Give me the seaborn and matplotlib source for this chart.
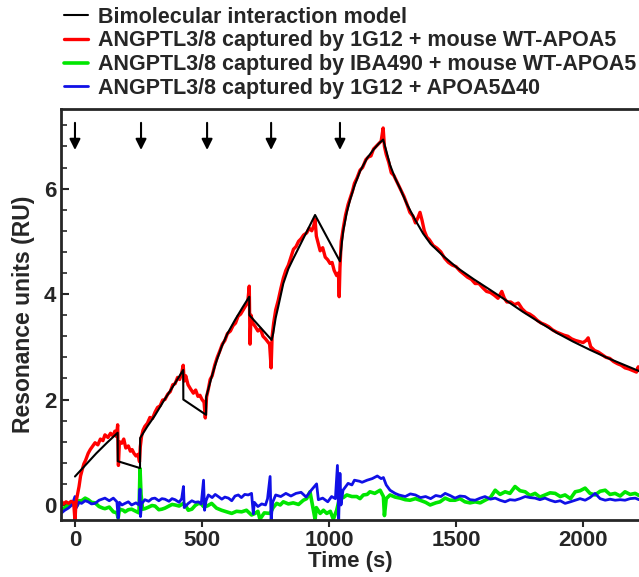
import matplotlib
matplotlib.use("Agg")
import matplotlib.pyplot as plt
from matplotlib.ticker import MultipleLocator
import seaborn as sns
import pandas as pd

# black fitted model (time s, RU)
model_t = [0, 42, 84, 126, 168, 168.5, 256, 256.5, 285, 315, 350, 390, 426, 426.5, 516,
           516.5, 538, 557, 577, 600, 630, 660, 686, 686.5, 774, 780, 790, 800, 820, 840,
           860, 885, 912, 945, 1043, 1050, 1056, 1070, 1083, 1100, 1122, 1150, 1175, 1195,
           1213, 1225, 1240, 1260, 1280, 1307, 1340, 1370, 1400, 1450, 1504, 1570, 1634,
           1700, 1764, 1830, 1898, 1960, 2028, 2100, 2160, 2220]
model_v = [0.54, 0.76, 0.98, 1.18, 1.37, 0.83, 0.70, 1.27, 1.49, 1.70, 1.98, 2.28, 2.56, 2.0,
           1.71, 2.05, 2.43, 2.73, 3.0, 3.25, 3.51, 3.75, 3.95, 3.6, 3.13, 3.25, 3.55, 3.76,
           4.2, 4.48, 4.68, 4.92, 5.18, 5.5, 4.62, 4.95, 5.2, 5.55, 5.79, 6.05, 6.33, 6.58,
           6.74, 6.85, 6.93, 6.72, 6.45, 6.2, 6.0, 5.7, 5.4, 5.15, 4.95, 4.72, 4.5, 4.28,
           4.08, 3.87, 3.66, 3.46, 3.26, 3.1, 2.94, 2.78, 2.66, 2.54]

# red: 1G12 + mouse WT-APOA5
red_t = [-55, -45, -35, -25, -15, -5, 0, 4, 10, 16, 22, 28, 35, 42, 52, 60, 70, 79, 90, 100,
         110, 118, 130, 140, 150, 157, 163, 168, 171, 175, 184, 192, 200, 210, 218, 225, 232,
         240, 248, 254, 257, 262, 268, 275, 285, 295, 305, 315, 325, 335, 345, 354, 365, 375,
         385, 394, 404, 412, 420, 426, 430, 436, 445, 455, 466, 475, 484, 492, 500, 508, 513,
         518, 525, 532, 540, 550, 560, 570, 580, 590, 600, 612, 622, 632, 642, 652, 662, 672,
         680, 686, 689, 693, 700, 710, 720, 730, 740, 750, 758, 766, 772, 776, 782, 790, 800,
         810, 820, 830, 840, 850, 860, 870, 880, 890, 900, 912, 922, 932, 940, 945, 950, 958,
         965, 975, 985, 995, 1004, 1012, 1020, 1030, 1037, 1040, 1043, 1048, 1056, 1065, 1075,
         1083, 1092, 1100, 1110, 1122, 1132, 1145, 1155, 1165, 1175, 1185, 1195, 1205, 1213,
         1218, 1225, 1235, 1245, 1255, 1265, 1275, 1285, 1295, 1307, 1318, 1330, 1340, 1350,
         1358, 1366, 1375, 1385, 1395, 1410, 1425, 1440, 1455, 1470, 1485, 1500, 1515, 1530,
         1545, 1560, 1575, 1590, 1605, 1620, 1635, 1650, 1665, 1680, 1690, 1700, 1715, 1730,
         1745, 1760, 1775, 1790, 1805, 1820, 1835, 1850, 1865, 1880, 1895, 1910, 1925, 1940,
         1955, 1970, 1985, 2000, 2012, 2020, 2030, 2045, 2060, 2075, 2090, 2105, 2120, 2135,
         2150, 2165, 2180, 2195, 2210, 2217, 2220]
red_v = [0.08, 0.02, 0.06, 0.03, 0.07, 0.04, -0.3, 0.05, 0.2, 0.35, 0.55, 0.66, 0.78, 0.85,
         0.98, 1.05, 1.12, 1.18, 1.14, 1.25, 1.22, 1.33, 1.28, 1.36, 1.31, 1.4, 1.3, 1.52, 0.75,
         1.2, 1.17, 1.25, 1.08, 1.12, 1.02, 1.05, 0.98, 0.93, 0.96, 0.82, 1.1, 1.3, 1.42, 1.49,
         1.55, 1.66, 1.64, 1.76, 1.85, 1.88, 1.99, 2.0, 2.1, 2.15, 2.28, 2.3, 2.42, 2.38, 2.5,
         2.65, 2.35, 2.45, 2.28, 2.2, 2.12, 2.18, 2.06, 2.08, 2.0, 1.95, 1.65, 2.05, 2.2, 2.38,
         2.45, 2.65, 2.8, 2.92, 3.05, 3.12, 3.25, 3.3, 3.4, 3.45, 3.58, 3.62, 3.7, 3.78, 3.85,
         4.15, 3.05, 3.6, 3.45, 3.38, 3.3, 3.34, 3.2, 3.15, 3.1, 3.05, 2.6, 3.2, 3.45, 3.7, 3.88,
         4.1, 4.3, 4.45, 4.55, 4.7, 4.85, 4.9, 5.0, 5.05, 5.12, 5.16, 5.25, 5.2, 5.3, 5.42, 5.1,
         4.95, 4.82, 4.88, 4.7, 4.65, 4.58, 4.6, 4.45, 4.35, 4.4, 3.95, 4.5, 5.0, 5.25, 5.5,
         5.7, 5.82, 5.95, 6.1, 6.2, 6.35, 6.4, 6.55, 6.6, 6.62, 6.75, 6.8, 6.85, 6.9, 7.15, 6.8,
         6.65, 6.5, 6.3, 6.25, 6.15, 6.05, 5.95, 5.85, 5.7, 5.55, 5.48, 5.35, 5.45, 5.55, 5.4,
         5.2, 5.08, 5.03, 4.92, 4.87, 4.8, 4.68, 4.6, 4.55, 4.52, 4.44, 4.38, 4.32, 4.28, 4.2,
         4.2, 4.12, 4.05, 4.03, 3.98, 3.92, 4.05, 3.92, 3.85, 3.85, 3.8, 3.83, 3.72, 3.65, 3.62,
         3.57, 3.5, 3.45, 3.42, 3.38, 3.32, 3.28, 3.25, 3.22, 3.2, 3.15, 3.12, 3.1, 3.08, 3.12,
         3.17, 3.0, 2.93, 2.9, 2.85, 2.8, 2.78, 2.72, 2.68, 2.65, 2.6, 2.58, 2.55, 2.52, 2.62,
         2.55]

# green: IBA490 + mouse WT-APOA5
green_t = [-55, -40, -26, -12, 0, 10, 15, 26, 40, 52, 65, 79, 95, 110, 118, 135, 151, 165, 170,
           175, 190, 197, 210, 223, 240, 252, 256, 260, 266, 275, 290, 303, 315, 330, 342, 354,
           370, 382, 394, 410, 427, 440, 446, 460, 473, 486, 497, 506, 520, 538, 557, 577, 597,
           617, 636, 656, 675, 695, 709, 720, 728, 745, 768, 780, 794, 808, 820, 840, 859, 880,
           899, 912, 925, 945, 950, 965, 978, 991, 1005, 1017, 1030, 1043, 1056, 1070, 1090,
           1109, 1122, 1135, 1150, 1161, 1180, 1201, 1214, 1218, 1225, 1240, 1260, 1280, 1300,
           1319, 1340, 1358, 1380, 1398, 1420, 1437, 1457, 1476, 1496, 1515, 1535, 1555, 1575,
           1595, 1614, 1635, 1654, 1673, 1693, 1712, 1732, 1752, 1772, 1791, 1811, 1830, 1850,
           1870, 1890, 1910, 1929, 1950, 1969, 1988, 2008, 2027, 2047, 2067, 2087, 2106, 2126,
           2146, 2165, 2185, 2205, 2220]
green_v = [-0.09, -0.05, 0.0, 0.02, -0.02, 0.0, 0.08, 0.08, 0.13, 0.1, 0.05, 0.04, -0.03,
           -0.06, -0.07, -0.04, -0.13, -0.15, -0.25, -0.08, -0.1, -0.13, -0.09, -0.08, -0.12,
           -0.15, 0.69, 0.2, -0.08, -0.07, -0.04, -0.01, -0.02, -0.09, -0.08, -0.06, -0.02,
           0.01, 0.0, -0.02, 0.03, -0.05, -0.1, -0.08, -0.01, 0.03, 0.02, -0.03, -0.02, 0.03,
           -0.06, -0.1, -0.13, -0.16, -0.12, -0.13, -0.1, -0.19, -0.16, -0.12, -0.27, -0.15,
           -0.16, -0.05, 0.03, 0.0, 0.06, 0.02, 0.04, 0.01, 0.09, 0.12, 0.25, -0.27, -0.05,
           -0.16, -0.1, -0.16, -0.12, -0.27, -0.1, 0.16, 0.14, 0.19, 0.16, 0.16, 0.12, 0.19,
           0.2, 0.25, 0.22, 0.28, 0.16, -0.2, 0.12, 0.19, 0.15, 0.13, 0.1, 0.09, 0.12, 0.09,
           0.05, 0.0, 0.04, 0.06, 0.13, 0.09, 0.09, 0.12, 0.06, 0.04, 0.06, 0.04, 0.09, 0.14,
           0.28, 0.2, 0.25, 0.22, 0.35, 0.27, 0.25, 0.18, 0.22, 0.15, 0.19, 0.23, 0.22, 0.16,
           0.19, 0.12, 0.25, 0.27, 0.32, 0.22, 0.19, 0.26, 0.28, 0.2, 0.22, 0.17, 0.25, 0.2,
           0.22, 0.18]

# blue: 1G12 + APOA5 delta40
blue_t = [-55, -40, -26, -12, 0, 6, 15, 26, 40, 52, 65, 79, 95, 118, 135, 151, 165, 170, 175,
          185, 197, 210, 223, 240, 252, 256, 258, 262, 275, 290, 303, 315, 330, 342, 354, 370,
          382, 394, 410, 420, 427, 430, 446, 460, 473, 486, 497, 506, 510, 516, 525, 540, 552,
          564, 578, 590, 604, 617, 630, 643, 655, 668, 682, 695, 702, 706, 720, 735, 750, 758,
          768, 772, 778, 790, 810, 830, 850, 870, 890, 910, 930, 951, 958, 975, 995, 1010,
          1025, 1033, 1038, 1043, 1047, 1055, 1075, 1090, 1100, 1120, 1130, 1150, 1170, 1190,
          1205, 1214, 1225, 1240, 1260, 1275, 1300, 1320, 1340, 1360, 1380, 1400, 1420, 1440,
          1457, 1476, 1496, 1515, 1535, 1555, 1575, 1595, 1614, 1635, 1654, 1673, 1693, 1712,
          1732, 1752, 1772, 1791, 1811, 1830, 1850, 1870, 1890, 1910, 1929, 1950, 1969, 1988,
          2008, 2027, 2047, 2067, 2087, 2106, 2126, 2146, 2165, 2185, 2205, 2220]
blue_v = [-0.16, -0.1, -0.06, 0.0, 0.16, -0.05, 0.05, 0.03, 0.08, 0.06, 0.02, 0.03, 0.09,
          0.13, 0.08, 0.13, 0.06, -0.25, 0.05, 0.0, 0.03, 0.06, 0.0, 0.04, 0.0, 0.3, -0.22,
          0.02, 0.1, 0.07, 0.12, 0.13, 0.08, 0.12, 0.11, 0.07, 0.12, 0.1, 0.05, 0.12, 0.35,
          -0.05, 0.03, 0.08, 0.05, 0.06, 0.02, 0.47, -0.1, 0.08, 0.19, 0.14, 0.2, 0.16, 0.11,
          0.15, 0.13, 0.08, 0.17, 0.19, 0.14, 0.2, 0.19, 0.22, -0.17, 0.05, -0.03, 0.02, 0.0,
          0.12, 0.54, -0.3, 0.05, 0.19, 0.16, 0.22, 0.17, 0.22, 0.24, 0.15, 0.28, 0.4, 0.1,
          0.13, 0.06, 0.16, 0.12, 0.75, -0.27, 0.6, 0.0, 0.28, 0.41, 0.38, 0.47, 0.45, 0.43,
          0.47, 0.5, 0.55, 0.5, 0.52, 0.38, 0.28, 0.22, 0.19, 0.16, 0.21, 0.19, 0.14, 0.16,
          0.12, 0.18, 0.16, 0.22, 0.18, 0.13, 0.17, 0.16, 0.1, 0.09, 0.13, 0.16, 0.11, 0.13,
          0.09, 0.06, 0.1, 0.09, 0.12, 0.16, 0.14, 0.13, 0.1, 0.13, 0.09, 0.06, 0.08, 0.03,
          0.06, 0.09, 0.12, 0.09, 0.14, 0.22, 0.12, 0.09, 0.11, 0.09, 0.1, 0.09, 0.12, 0.13,
          0.1]

injections = [0, 260, 520, 772, 1043]

labels = ["Bimolecular interaction model",
          "ANGPTL3/8 captured by 1G12 + mouse WT-APOA5",
          "ANGPTL3/8 captured by IBA490 + mouse WT-APOA5",
          "ANGPTL3/8 captured by 1G12 + APOA5\u039440"]

sns.set_style("ticks")
plt.rcParams["font.family"] = ["Liberation Sans", "DejaVu Sans"]
plt.rcParams["font.weight"] = "bold"

fig = plt.figure(figsize=(6.39, 5.77), dpi=100)
ax = fig.add_axes([61 / 639, 57 / 577, 578 / 639, 411 / 577])

df_r = pd.DataFrame({"t": red_t, "v": red_v})
df_g = pd.DataFrame({"t": green_t, "v": green_v})
df_b = pd.DataFrame({"t": blue_t, "v": blue_v})
df_m = pd.DataFrame({"t": model_t, "v": model_v})

sns.lineplot(data=df_g, x="t", y="v", color="#00e600", lw=2.6, estimator=None, sort=False, ax=ax, label=labels[2])
sns.lineplot(data=df_b, x="t", y="v", color="#1010e6", lw=2.0, estimator=None, sort=False, ax=ax, label=labels[3])
sns.lineplot(data=df_r, x="t", y="v", color="#ff0000", lw=2.4, estimator=None, sort=False, ax=ax, label=labels[1])
sns.lineplot(data=df_m, x="t", y="v", color="black", lw=1.5, estimator=None, sort=False, ax=ax, label=labels[0])

for t in injections:
    ax.annotate("", xy=(t, 6.68), xytext=(t, 7.3),
                arrowprops=dict(arrowstyle="-|>", color="black", lw=1.5, mutation_scale=16))

ax.set_xlim(-55, 2220)
ax.set_ylim(-0.285, 7.51)
ax.set_xticks([0, 500, 1000, 1500, 2000])
ax.set_yticks([0, 2, 4, 6])
ax.yaxis.set_minor_locator(MultipleLocator(0.4))
ax.tick_params(axis="x", direction="out", length=5, width=1.5, labelsize=16, pad=2)
ax.tick_params(axis="y", which="major", direction="in", length=6, width=1.5, labelsize=16)
ax.tick_params(axis="y", which="minor", direction="in", length=4, width=1.2)
ax.set_xlabel("Time (s)", fontsize=16, fontweight="bold", labelpad=0)
ax.set_ylabel("Resonance units (RU)", fontsize=16.5, fontweight="bold", labelpad=6)
for s in ["left", "bottom", "top"]:
    ax.spines[s].set_linewidth(2)
ax.spines["right"].set_visible(False)

handles, labs = ax.get_legend_handles_labels()
order = [labs.index(l) for l in labels]
ax.get_legend().remove()
fig.legend([handles[i] for i in order], labels, loc="upper left",
           bbox_to_anchor=(55 / 639, 1.003), frameon=False, fontsize=15.5,
           handlelength=1.15, handletextpad=0.45, labelspacing=0.12, borderaxespad=0)

fig.savefig("out.png", dpi=100)
